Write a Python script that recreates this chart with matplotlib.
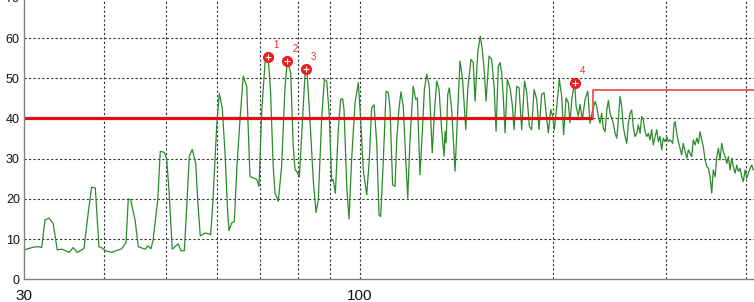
import matplotlib
matplotlib.use("Agg")
import matplotlib.pyplot as plt
from matplotlib.ticker import FixedLocator, NullLocator, NullFormatter

plt.rcParams['font.family'] = ['Liberation Sans', 'DejaVu Sans']

freq = [30.0, 31.03, 31.58, 31.96, 32.35, 32.84, 33.31, 33.80, 34.34, 35.29,
        35.79, 36.31, 37.20, 37.77, 38.23, 38.74, 39.25, 39.76, 40.16, 41.08,
        42.58, 43.25, 43.60, 43.97, 44.67, 45.20, 46.30, 46.84, 47.29, 47.67,
        48.46, 48.90, 49.61, 50.04, 50.45, 51.04, 51.55, 52.16, 52.66, 53.31,
        53.77, 54.26, 54.84, 55.53, 55.92, 56.44, 57.42, 58.24, 58.58, 59.0,
        59.87, 60.43, 61.07, 61.68, 62.28, 62.57, 63.16, 63.78, 64.33, 65.08,
        65.84, 66.67, 67.45, 68.24, 69.10, 69.67, 70.33, 71.20, 72.0, 72.6,
        73.31, 73.79, 74.66, 75.56, 76.49, 77.12, 78.05, 78.77, 79.28, 79.77,
        80.50, 81.18, 82.17, 82.47, 82.85, 83.64, 84.62, 85.48, 86.18, 87.21,
        88.07, 88.82, 89.64, 90.40, 90.91, 91.61, 92.58, 93.37, 94.03, 94.51,
        95.43, 96.21, 97.12, 98.31, 99.47, 100.31, 101.23, 102.52, 103.47, 104.34,
        105.24, 106.26, 107.13, 107.77, 108.76, 109.88, 110.77, 111.44, 112.49, 113.48,
        114.17, 115.11, 115.91, 116.85, 117.91, 118.76, 119.72, 121.11, 122.22, 122.91,
        124.09, 125.10, 126.05, 127.13, 128.30, 129.66, 130.65, 131.78, 132.86, 134.11,
        135.28, 135.77, 136.25, 137.08, 137.85, 139.01, 140.71, 141.86, 143.22, 144.58,
        146.22, 147.26, 148.98, 150.18, 151.18, 152.64, 154.04, 155.13, 156.31, 157.26,
        158.95, 160.45, 161.84, 163.01, 164.33, 165.32, 166.31, 167.24, 168.35, 169.73,
        171.36, 172.75, 173.88, 175.57, 177.01, 178.68, 180.54, 181.97, 183.64, 185.19,
        186.80, 188.61, 190.16, 191.96, 193.63, 195.02, 196.61, 198.28, 199.67, 200.92,
        202.65, 204.51, 206.24, 207.68, 209.52, 211.22, 212.49, 213.99, 216.0, 217.17,
        218.94, 220.26, 222.04, 224.29, 226.46,
        228.29, 230.47, 232.48, 233.90, 235.22, 236.63, 238.04, 239.39, 240.97, 242.44,
        243.81, 245.27, 246.74, 248.13, 249.78, 251.29, 252.71, 254.23, 255.75, 257.19,
        258.90, 260.47, 261.94, 263.52, 265.09, 266.59, 268.35, 269.98, 271.51, 273.14,
        274.77, 276.32, 278.15, 279.84, 281.42, 283.11, 284.80, 286.41, 288.30, 290.06,
        291.69, 293.45, 295.20, 296.86, 298.83, 300.65, 302.35,
        304.16, 307.05, 308.63, 309.74, 311.62, 313.38, 315.27, 317.15, 318.94, 321.05,
        323.00, 324.83, 326.78, 328.73, 330.58, 332.77, 334.80, 336.69, 338.71, 340.73,
        342.65, 344.93, 347.02, 348.98, 351.08, 353.18, 355.17, 357.52, 359.70, 361.73,
        363.90, 366.07, 368.14, 370.58, 372.83, 374.94, 377.19, 379.44, 381.58, 384.11,
        386.44, 388.62, 390.96, 393.29, 395.51, 398.13, 400.55, 402.81, 405.23, 407.65,
        409.95]

level = [7.3, 8.0, 8.1, 7.9, 14.8, 15.2, 13.8, 7.3, 7.5, 6.7,
         7.9, 6.65, 7.7, 16.5, 22.9, 22.7, 8.1, 7.7, 7.1, 6.7,
         7.6, 9.1, 20.0, 19.8, 14.8, 8.1, 7.5, 8.3, 7.6, 9.8,
         19.8, 31.8, 31.6, 29.8, 22.3, 7.5, 8.1, 8.8, 7.1, 7.1,
         18.1, 30.6, 32.3, 28.9, 19.8, 10.8, 11.5, 11.3, 11.1, 18.1,
         38.1, 46.2, 42.6, 31.4, 16.5, 12.1, 14.0, 14.4, 27.3, 39.7,
         50.5, 48.0, 25.6, 25.2, 24.9, 23.1, 41.4, 53.9, 55.2, 47.0,
         28.1, 21.4, 19.4, 28.1, 48.0, 54.2, 51.4, 33.1, 27.3, 26.8,
         25.4, 35.6, 51.0, 52.2, 50.5, 39.7, 24.8, 16.6, 19.8, 39.7,
         49.7, 49.3, 40.6, 24.4, 24.8, 21.4, 37.2, 44.7, 44.9, 42.2,
         23.1, 15.0, 29.8, 43.9, 48.9, 39.7, 27.3, 21.0, 29.8, 42.6,
         43.4, 33.9, 16.0, 15.6, 28.9, 46.8, 46.4, 42.6, 23.5, 23.1,
         34.7, 42.6, 46.6, 43.1, 29.8, 20.2, 34.7, 48.0, 44.7, 45.1,
         26.0, 36.4, 47.2, 51.0, 48.0, 31.4, 41.4, 49.3, 47.2, 37.2,
         30.6, 36.8, 33.9, 46.0, 47.6, 42.2, 26.9, 39.7, 54.3, 49.7,
         37.2, 47.2, 54.7, 53.9, 44.3, 56.4, 60.5, 57.2, 51.4, 44.3,
         55.5, 54.7, 48.0, 36.8, 53.0, 53.9, 51.4, 45.6, 36.4, 49.7,
         47.6, 43.5, 37.2, 48.0, 47.6, 37.2, 49.3, 46.4, 38.1, 37.2,
         47.2, 44.7, 37.2, 46.0, 46.4, 41.4, 36.4, 42.2, 40.6, 37.2,
         43.1, 49.7, 45.6, 36.0, 45.1, 43.9, 38.9, 45.1, 48.8, 43.1,
         40.6, 43.5, 39.7, 44.7, 46.8,
         38.8, 42.1, 44.2, 43.0, 40.5, 38.8, 41.3, 37.6, 36.7, 42.1,
         44.5, 41.3, 40.1, 38.8, 36.3, 35.1, 39.7, 45.5, 43.0, 38.0,
         35.5, 33.8, 38.8, 41.3, 42.1, 38.0, 35.5, 36.3, 38.4, 36.3,
         40.5, 39.7, 36.7, 35.5, 36.3, 34.7, 37.2, 33.4, 35.5, 37.2,
         34.2, 35.5, 32.2, 35.1, 34.2, 35.5, 34.2,
         34.7, 33.8, 38.8, 39.2, 36.3, 34.2, 32.6, 30.9, 33.8, 31.8,
         30.1, 32.2, 31.3, 30.5, 34.7, 33.4, 35.1, 33.8, 36.7, 34.7,
         33.0, 29.7, 28.0, 27.6, 25.5, 21.4, 27.2, 25.5, 30.5, 32.6,
         29.7, 33.8, 31.8, 30.5, 28.8, 30.5, 27.2, 30.1, 28.0, 26.4,
         28.4, 26.8, 27.6, 25.5, 24.3, 27.2, 25.1, 26.4, 27.6, 28.4,
         27.2]

limit_freq = [30.0, 230.5, 230.5, 411.2]
limit_level = [40.0, 40.0, 47.0, 47.0]

peak_labels = ['1', '2', '3', '4']
peak_freq = [72.0, 77.12, 82.47, 216.0]
peak_level = [55.2, 54.2, 52.2, 48.8]

xtick_vals = [30, 100]
xtick_labels = ['30', '100']
xgrid_vals = [40, 50, 60, 70, 80, 90, 100, 200, 300, 400]
ytick_vals = [0, 10, 20, 30, 40, 50, 60, 70]

fig = plt.figure(figsize=(7.54, 3.02), dpi=100)
ax = fig.add_axes([24 / 754, 22.7 / 302, 730 / 754, 281.5 / 302])
ax.set_xscale('log')
ax.set_xlim(30, 411)
ax.set_ylim(0, 70)

grid_kw = dict(color='#333333', lw=0.8, ls=(0, (2, 2)), zorder=1)
for gx in xgrid_vals:
    ax.axvline(gx, **grid_kw)
for gy in ytick_vals[1:]:
    ax.axhline(gy, **grid_kw)

ax.plot(freq, level, color='#2b8a2b', lw=0.9, zorder=3)

ax.plot(limit_freq[:2], limit_level[:2], color='#e01010', lw=2.3, zorder=4,
        solid_capstyle='butt')
ax.plot(limit_freq[1:], limit_level[1:], color='#e84848', lw=1.2, zorder=4)

ax.plot(peak_freq, peak_level, ls='none', marker='o', ms=7,
        mfc='#ee1c1c', mec='#ee1c1c', zorder=5)
ax.plot(peak_freq, peak_level, ls='none', marker='+', ms=5, mew=0.8,
        color='white', zorder=6)
for lab, fx, ly in zip(peak_labels, peak_freq, peak_level):
    ax.annotate(lab, (fx, ly), xytext=(5.5, 9), textcoords='offset points',
                color='#e03030', fontsize=7, ha='center', va='center',
                zorder=7)

ax.xaxis.set_major_locator(FixedLocator(xtick_vals))
ax.set_xticklabels(xtick_labels)
ax.xaxis.set_minor_locator(NullLocator())
ax.xaxis.set_minor_formatter(NullFormatter())
ax.set_yticks(ytick_vals)
ax.tick_params(axis='x', length=0, pad=7, labelsize=11, labelcolor='#111111')
ax.tick_params(axis='y', length=0, pad=3, labelsize=9, labelcolor='#111111')

for s in ['top', 'right']:
    ax.spines[s].set_visible(False)
for s in ['left', 'bottom']:
    ax.spines[s].set_color('#808080')
    ax.spines[s].set_linewidth(1.0)
    ax.spines[s].set_zorder(8)

fig.savefig('out.png', dpi=100)
